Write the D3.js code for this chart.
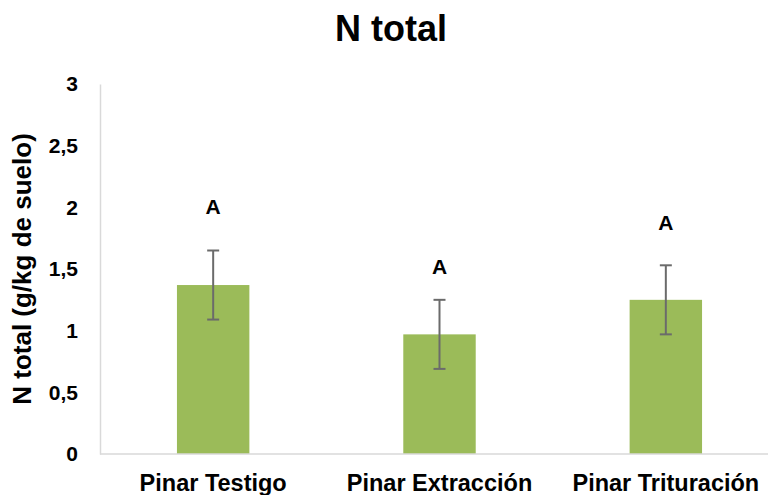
<!DOCTYPE html>
<html>
<head>
<meta charset="utf-8">
<script src="https://cdn.jsdelivr.net/npm/d3@7"></script>
<style>
  html, body { margin: 0; padding: 0; background: #ffffff; }
  svg { display: block; font-family: "Liberation Sans", Arial, sans-serif; }
</style>
</head>
<body>
<svg id="chart" width="768" height="495"></svg>
<script>
// Total nitrogen per treatment (g/kg soil), with error bars and group letters
const categories = ["Pinar Testigo", "Pinar Extracción", "Pinar Trituración"];
const means = [1.37, 0.97, 1.25];
const errors = [0.28, 0.28, 0.28];
const groupLetters = ["A", "A", "A"];
const letterLevels = [1.95, 1.46, 1.82];
const yTicks = [0, 0.5, 1, 1.5, 2, 2.5, 3];
const yTickLabels = ["0", "0,5", "1", "1,5", "2", "2,5", "3"];

const svg = d3.select("#chart");
const plotLeft = 100, plotRight = 779, plotTop = 84, plotBottom = 454;

const x = d3.scaleBand()
  .domain(categories)
  .range([plotLeft, plotRight])
  .paddingInner(0.68)
  .paddingOuter(0.34);

const y = d3.scaleLinear().domain([0, 3]).range([plotBottom, plotTop]);

// Title
svg.append("text")
  .attr("x", 391).attr("y", 41)
  .attr("text-anchor", "middle")
  .attr("font-size", 36).attr("font-weight", "bold")
  .attr("fill", "#000")
  .text("N total");

// Y axis title
svg.append("text")
  .attr("transform", `translate(31, ${269}) rotate(-90)`)
  .attr("text-anchor", "middle")
  .attr("font-size", 26).attr("font-weight", "bold")
  .attr("fill", "#000")
  .text("N total (g/kg de suelo)");

// Y axis (line + labels)
const yAxis = d3.axisLeft(y)
  .tickValues(yTicks)
  .tickFormat((d, i) => yTickLabels[i])
  .tickSize(0)
  .tickPadding(22);

const gy = svg.append("g")
  .attr("transform", `translate(${plotLeft},0)`)
  .call(yAxis);
gy.select(".domain").attr("stroke", "#d9d9d9").attr("stroke-width", 1.5);
gy.selectAll("text")
  .attr("font-size", 21).attr("font-weight", "bold")
  .attr("fill", "#000")
  .attr("font-family", "Liberation Sans, Arial, sans-serif");

// Bars
svg.append("g").selectAll("rect")
  .data(categories)
  .join("rect")
  .attr("x", d => x(d))
  .attr("y", (d, i) => y(means[i]))
  .attr("width", x.bandwidth())
  .attr("height", (d, i) => y(0) - y(means[i]))
  .attr("fill", "#9bbb59");

// X axis (baseline + labels)
const xAxis = d3.axisBottom(x).tickSize(0).tickPadding(20.5);
const gx = svg.append("g")
  .attr("transform", `translate(0,${plotBottom})`)
  .call(xAxis);
gx.select(".domain").attr("d", `M${plotLeft},0H768`).attr("stroke", "#d9d9d9").attr("stroke-width", 1.5);
gx.selectAll("text")
  .attr("font-size", 23.5).attr("font-weight", "bold")
  .attr("fill", "#000")
  .attr("font-family", "Liberation Sans, Arial, sans-serif");

// Error bars
const eb = svg.append("g").attr("stroke", "#6b6b6b").attr("stroke-width", 2);
categories.forEach((c, i) => {
  const cx = x(c) + x.bandwidth() / 2;
  const hi = y(means[i] + errors[i]);
  const lo = y(means[i] - errors[i]);
  eb.append("line").attr("x1", cx).attr("x2", cx).attr("y1", hi).attr("y2", lo);
  eb.append("line").attr("x1", cx - 6).attr("x2", cx + 6).attr("y1", hi).attr("y2", hi);
  eb.append("line").attr("x1", cx - 6).attr("x2", cx + 6).attr("y1", lo).attr("y2", lo);
});

// Group letters
svg.append("g").selectAll("text")
  .data(categories)
  .join("text")
  .attr("x", d => x(d) + x.bandwidth() / 2)
  .attr("y", (d, i) => y(letterLevels[i]))
  .attr("text-anchor", "middle")
  .attr("font-size", 21).attr("font-weight", "bold")
  .attr("fill", "#000")
  .text((d, i) => groupLetters[i]);
</script>
</body>
</html>
